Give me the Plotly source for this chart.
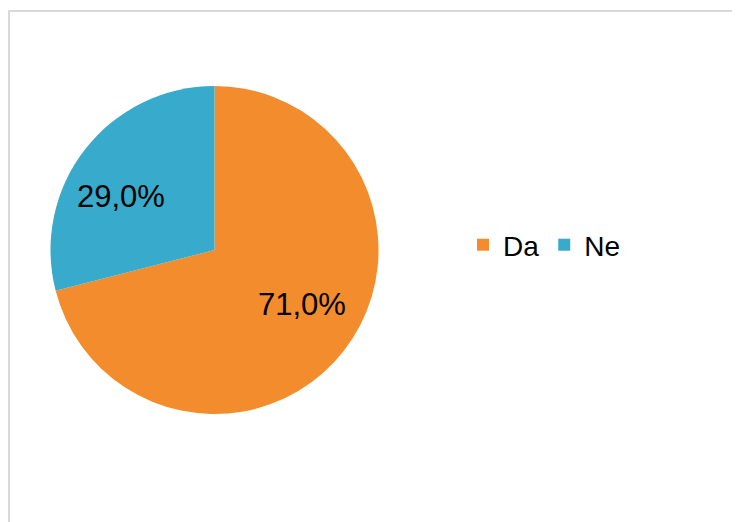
import plotly.graph_objects as go

labels = ["Da", "Ne"]
values = [71.0, 29.0]
colors = ["#F28C2C", "#38AACB"]

text = [f"{v:.1f}%".replace(".", ",") for v in values]

W, H = 740, 522
# page body adds an 8px offset; layout positions are in figure pixels
cx, cy, r = 206.5, 242, 164

fig = go.Figure(go.Pie(
    labels=labels,
    values=values,
    textinfo="none",
    sort=False,
    direction="clockwise",
    rotation=0,
    marker=dict(colors=colors, line=dict(width=0)),
    domain=dict(x=[(cx - r) / W, (cx + r) / W], y=[(H - cy - r) / H, (H - cy + r) / H]),
    hoverinfo="label+percent",
))

# data labels (text from values), placed inside their slices
label_pos = [(294, 296), (113.5, 189)]
annotations = []
for t, (px, py) in zip(text, label_pos):
    annotations.append(dict(
        text=t, xref="paper", yref="paper",
        x=px / W, y=1 - py / H, xanchor="center", yanchor="middle",
        showarrow=False,
        font=dict(family="Arial, Liberation Sans", size=31, color="#000000"),
    ))

fig.update_layout(
    width=W, height=H,
    margin=dict(l=0, r=0, t=0, b=0),
    paper_bgcolor="white",
    plot_bgcolor="white",
    showlegend=True,
    legend=dict(
        orientation="h",
        x=455 / W, xanchor="left",
        y=1 - 237 / H, yanchor="middle",
        font=dict(family="Arial, Liberation Sans", size=28, color="#000000"),
        itemwidth=30,
        bgcolor="rgba(0,0,0,0)",
    ),
    annotations=annotations,
    shapes=[
        dict(type="line", xref="paper", yref="paper",
             x0=1 / W, y0=0, x1=1 / W, y1=1 - 2.5 / H,
             line=dict(color="#D9D9D9", width=2)),
        dict(type="line", xref="paper", yref="paper",
             x0=0, y0=1 - 3 / H, x1=1, y1=1 - 3 / H,
             line=dict(color="#D9D9D9", width=2)),
    ],
)

fig.write_html("out.html")
